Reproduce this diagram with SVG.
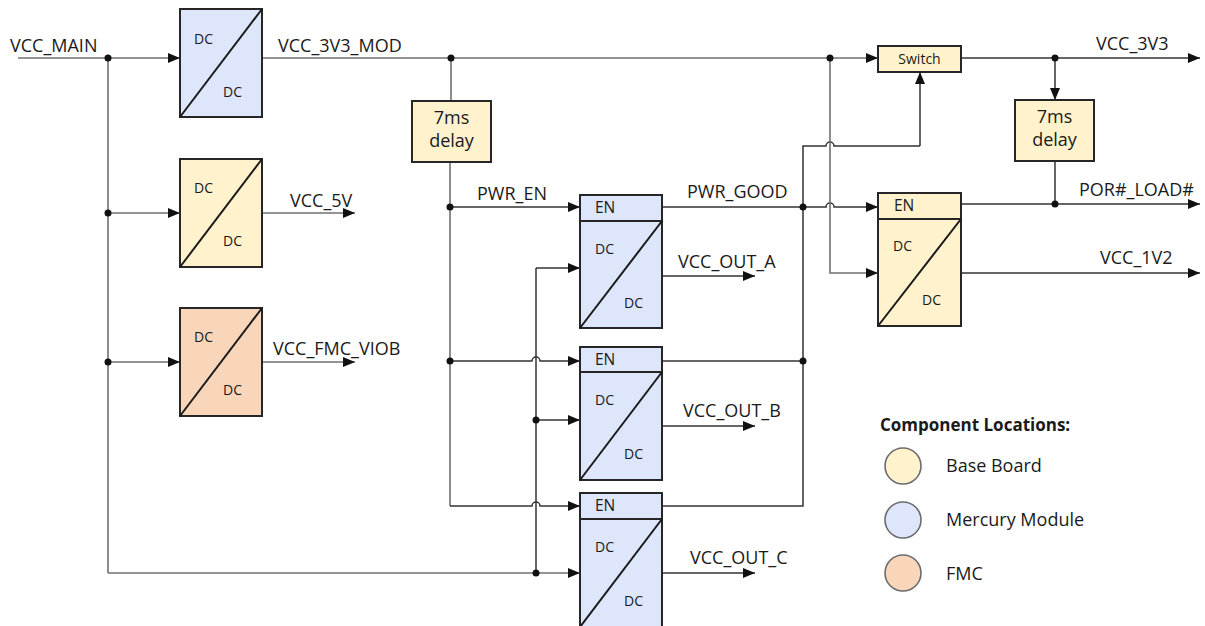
<svg xmlns="http://www.w3.org/2000/svg" width="1205" height="626" viewBox="0 0 1205 626">
<defs>
<style>
text{font-family:"Open Sans","Noto Sans","DejaVu Sans",sans-serif;fill:#1a1a1a}
.lbl{font-size:18px}
.dc{font-size:14px}
.en{font-size:15.5px}
.dl{font-size:18px;text-anchor:middle}
.sw{font-size:14px;text-anchor:middle}
.box{stroke:#262626;stroke-width:2}
.bb{fill:#fff2cc}
.mm{fill:#dde6fa}
.fm{fill:#f9d6b9}
.diag{stroke:#1a1a1a;stroke-width:2;fill:none}
.w{fill:none;stroke:#707070;stroke-width:1.6}
.k{fill:none;stroke:#333;stroke-width:1.5}
.a{marker-end:url(#ah)}
.dot{fill:#111}
.lg{stroke:#6b6b6b;stroke-width:1.6}
</style>
<marker id="ah" markerUnits="userSpaceOnUse" markerWidth="12" markerHeight="10" viewBox="0 0 12 10" refX="12" refY="5" orient="auto">
<path d="M0,0 L12,5 L0,10 Z" fill="#111"/>
</marker>
</defs>

<g id="connectors">
<path class="w a" d="M18,58 H180"/>
<path class="w" d="M108,58 V573"/>
<path class="w a" d="M108,213 H180"/>
<path class="w a" d="M108,362 H180"/>
<path class="w a" d="M108,573 H580"/>
<path class="w a" d="M262,213 H355"/>
<path class="w a" d="M262,362 H355"/>
<path class="w a" d="M262,58 H878"/>
<path class="w" d="M451,58 V101"/>
<path class="w" d="M450,162 V506"/>
<path class="k a" d="M450,207 H580"/>
<path class="k a" d="M450,361 H532 a4,4 0 0 1 8,0 H580"/>
<path class="k a" d="M450,506 H532 a4,4 0 0 1 8,0 H580"/>
<path class="k" d="M536,268 V573"/>
<path class="k a" d="M536,268 H580"/>
<path class="k a" d="M536,420 H580"/>
<path class="k a" d="M662,276 H755"/>
<path class="k a" d="M662,426 H755"/>
<path class="k a" d="M662,573 H755"/>
<path class="k a" d="M662,207 H826 a4,4 0 0 1 8,0 H878"/>
<path class="k" d="M662,361 H803"/>
<path class="k" d="M662,506 H803 V146 H826 a4,4 0 0 1 8,0 H920"/>
<path class="k a" d="M920,146 V72"/>
<path class="w a" d="M830,58 V273 H878"/>
<path class="k a" d="M961,58 H1200"/>
<path class="k a" d="M1055,58 V100"/>
<path class="k" d="M1055,161 V204"/>
<path class="k a" d="M961,204 H1200"/>
<path class="k a" d="M961,273 H1200"/>
<circle class="dot" cx="108" cy="58" r="3.5"/>
<circle class="dot" cx="108" cy="213" r="3.5"/>
<circle class="dot" cx="108" cy="362" r="3.5"/>
<circle class="dot" cx="451" cy="58" r="3.5"/>
<circle class="dot" cx="830" cy="58" r="3.5"/>
<circle class="dot" cx="450" cy="207" r="3.5"/>
<circle class="dot" cx="450" cy="361" r="3.5"/>
<circle class="dot" cx="536" cy="420" r="3.5"/>
<circle class="dot" cx="536" cy="573" r="3.5"/>
<circle class="dot" cx="803" cy="207" r="3.5"/>
<circle class="dot" cx="803" cy="361" r="3.5"/>
<circle class="dot" cx="1055" cy="58" r="3.5"/>
<circle class="dot" cx="1055" cy="204" r="3.5"/>
</g>

<g id="labels">
<text class="lbl" x="10" y="52">VCC_MAIN</text>
<text class="lbl" x="278" y="52">VCC_3V3_MOD</text>
<text class="lbl" x="290" y="207">VCC_5V</text>
<text class="lbl" x="273" y="355">VCC_FMC_VIOB</text>
<text class="lbl" x="477" y="200">PWR_EN</text>
<text class="lbl" x="687" y="198">PWR_GOOD</text>
<text class="lbl" x="678" y="268">VCC_OUT_A</text>
<text class="lbl" x="683" y="417">VCC_OUT_B</text>
<text class="lbl" x="690" y="564">VCC_OUT_C</text>
<text class="lbl" x="1096" y="50">VCC_3V3</text>
<text class="lbl" x="1079" y="196">POR#_LOAD#</text>
<text class="lbl" x="1100" y="264">VCC_1V2</text>
</g>

<g id="dcdc-3v3mod">
<rect class="box mm" x="180" y="9" width="82" height="108"/>
<path class="diag" d="M180,117 L262,9"/>
<text class="dc" x="194" y="44">DC</text>
<text class="dc" x="223" y="97">DC</text>
</g>

<g id="dcdc-5v">
<rect class="box bb" x="180" y="159" width="82" height="108"/>
<path class="diag" d="M180,267 L262,159"/>
<text class="dc" x="194" y="193">DC</text>
<text class="dc" x="223" y="246">DC</text>
</g>

<g id="dcdc-fmc">
<rect class="box fm" x="180" y="308" width="82" height="108"/>
<path class="diag" d="M180,416 L262,308"/>
<text class="dc" x="194" y="342">DC</text>
<text class="dc" x="223" y="395">DC</text>
</g>

<g id="delay1">
<rect class="box bb" x="412" y="101" width="79" height="61"/>
<text class="dl" x="451.5" y="124">7ms</text>
<text class="dl" x="451.5" y="147">delay</text>
</g>

<g id="dcdc-a">
<rect class="box mm" x="580" y="195" width="82" height="133"/>
<path class="box" d="M580,221 H662" fill="none"/>
<path class="diag" d="M580,328 L662,221"/>
<text class="en" x="595" y="213">EN</text>
<text class="dc" x="595" y="254">DC</text>
<text class="dc" x="624" y="308">DC</text>
</g>

<g id="dcdc-b">
<rect class="box mm" x="580" y="347" width="82" height="133"/>
<path class="box" d="M580,372 H662" fill="none"/>
<path class="diag" d="M580,480 L662,372"/>
<text class="en" x="595" y="365">EN</text>
<text class="dc" x="595" y="405">DC</text>
<text class="dc" x="624" y="459">DC</text>
</g>

<g id="dcdc-c">
<rect class="box mm" x="580" y="493" width="82" height="134"/>
<path class="box" d="M580,519 H662" fill="none"/>
<path class="diag" d="M580,627 L662,519"/>
<text class="en" x="595" y="511">EN</text>
<text class="dc" x="595" y="552">DC</text>
<text class="dc" x="624" y="606">DC</text>
</g>

<g id="switch">
<rect class="box bb" x="878" y="46" width="83" height="26"/>
<text class="sw" x="919.5" y="64">Switch</text>
</g>

<g id="delay2">
<rect class="box bb" x="1015" y="100" width="79" height="61"/>
<text class="dl" x="1054.5" y="123">7ms</text>
<text class="dl" x="1054.5" y="146">delay</text>
</g>

<g id="dcdc-1v2">
<rect class="box bb" x="878" y="193" width="83" height="133"/>
<path class="box" d="M878,219 H961" fill="none"/>
<path class="diag" d="M878,326 L961,219"/>
<text class="en" x="894" y="211">EN</text>
<text class="dc" x="893" y="251">DC</text>
<text class="dc" x="922" y="305">DC</text>
</g>

<g id="legend">
<text x="880" y="431" style="font-size:17px;font-weight:bold">Component Locations:</text>
<circle class="lg bb" cx="903" cy="466" r="18"/>
<text class="lbl" x="946" y="472">Base Board</text>
<circle class="lg mm" cx="903" cy="520" r="18"/>
<text class="lbl" x="946" y="526">Mercury Module</text>
<circle class="lg fm" cx="903" cy="573" r="18"/>
<text class="lbl" x="946" y="580">FMC</text>
</g>
</svg>
